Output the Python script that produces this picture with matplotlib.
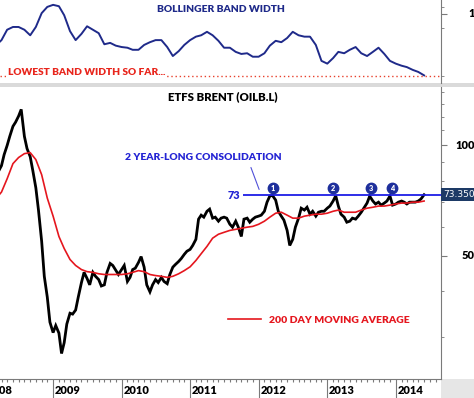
import matplotlib
matplotlib.use("Agg")
import matplotlib.pyplot as plt
import matplotlib.ticker as mticker
import matplotlib.dates as mdates
from matplotlib.patches import Rectangle
import pandas as pd

plt.rcParams['font.family'] = ['Lato', 'DejaVu Sans']

# ---------------- data ----------------
# ETFS Brent (OILB.L), semi-monthly closes from 2008-03-15
price = [84.8, 88.1, 94.4, 100.0, 105.9, 112.8, 115.8, 120.3, 125.5, 105.9,
         98.1, 93.2, 85.3, 76.6, 66.6, 54.7, 43.9, 38.5, 32.9, 30.8,
         32.2, 30.7, 27.0, 28.9, 32.5, 34.8, 34.6, 35.5, 38.5, 42.2,
         45.0, 43.3, 41.6, 45.0, 43.9, 43.0, 41.3, 41.6, 45.0, 47.6,
         47.0, 45.6, 44.4, 45.8, 47.0, 42.5, 43.6, 45.8, 46.2, 47.9,
         49.7, 46.5, 41.6, 39.8, 41.6, 43.0, 42.2, 43.6, 42.5, 41.9,
         44.4, 46.5, 47.3, 48.2, 49.1, 50.4, 51.4, 52.0, 53.3, 55.4,
         62.9, 64.5, 63.7, 66.1, 67.0, 63.3, 63.7, 62.1, 63.3, 63.7,
         63.3, 60.9, 59.8, 62.1, 59.8, 56.4, 62.9, 63.3, 61.7, 62.9,
         63.7, 64.1, 64.5, 66.1, 70.0, 72.8, 73.0, 70.9, 66.1, 64.1,
         62.5, 58.6, 53.3, 55.4, 59.8, 63.3, 67.4, 66.6, 67.8, 64.9,
         66.1, 64.1, 65.7, 66.1, 66.1, 67.4, 68.3, 70.5, 72.9, 68.3,
         64.9, 63.7, 61.7, 62.1, 63.3, 62.9, 64.1, 65.7, 67.4, 69.6,
         72.7, 70.5, 69.2, 70.0, 68.7, 69.6, 70.5, 72.8, 68.7, 69.2,
         70.0, 70.5, 70.0, 69.2, 70.0, 70.0, 70.0, 70.5, 71.4, 73.35]
price_dates = pd.date_range('2008-03-15', periods=len(price), freq='SMS')

# 200 day moving average, monthly from 2008-03-01
ma200 = [71.4, 74.6, 81.1, 89.2, 92.7, 95.0, 95.6, 91.5, 83.2, 71.8,
         64.1, 56.4, 52.3, 48.8, 47.0, 45.8, 45.2, 45.0, 44.6, 44.4,
         44.4, 44.4, 44.4, 44.6, 45.0, 45.5, 45.2, 44.4, 44.1, 43.9,
         43.6, 43.9, 44.6, 45.5, 46.6, 48.5, 50.6, 53.0, 55.8, 57.2,
         57.9, 58.6, 59.0, 59.4, 59.8, 60.1, 60.9, 62.1, 63.7, 65.3,
         65.7, 64.5, 63.3, 63.3, 64.1, 64.5, 64.9, 64.9, 65.3, 66.1,
         66.6, 65.7, 65.7, 65.7, 66.6, 67.4, 67.8, 68.3, 68.3, 68.7,
         69.2, 69.6, 69.6, 70.0, 70.0, 70.5]
# Bollinger band width, monthly from 2008-03-01
bbw = [0.54, 0.62, 0.77, 0.81, 0.81, 0.77, 0.69, 0.81, 1.01, 1.10,
       1.13, 1.11, 0.98, 0.75, 0.62, 0.71, 0.82, 0.77, 0.72, 0.56,
       0.58, 0.54, 0.52, 0.51, 0.48, 0.48, 0.55, 0.59, 0.62, 0.62,
       0.52, 0.39, 0.46, 0.55, 0.62, 0.67, 0.69, 0.74, 0.69, 0.61,
       0.51, 0.51, 0.45, 0.42, 0.43, 0.38, 0.38, 0.43, 0.54, 0.61,
       0.59, 0.65, 0.74, 0.69, 0.67, 0.67, 0.55, 0.32, 0.28, 0.36,
       0.45, 0.43, 0.48, 0.52, 0.43, 0.39, 0.45, 0.51, 0.42, 0.32,
       0.28, 0.25, 0.23, 0.19, 0.16, 0.11]
monthly_dates = pd.date_range('2008-03-01', periods=len(ma200), freq='MS')

lowest_bbw = 0.10
resistance = 73
last_price = 73.35
peak_dates = pd.to_datetime(['2012-03-17', '2013-02-01', '2013-08-23', '2013-12-13'])
peak_labels = ['1', '2', '3', '4']
years = [2008, 2009, 2010, 2011, 2012, 2013, 2014]

x_start = pd.Timestamp('2008-03-24')
x_end = pd.Timestamp('2014-08-30')

# ---------------- figure ----------------
W, H = 474, 398
fig = plt.figure(figsize=(W / 100, H / 100), dpi=100)
fig.patch.set_facecolor('white')

axr = 441 / W
ax1 = fig.add_axes([0, 1 - 83 / H, axr, 83 / H])
ax2 = fig.add_axes([0, 1 - 379 / H, axr, (379 - 87) / H])

navy = '#1f2a8a'
blue = '#2424d4'
red = '#e5161e'
axis_col = '#7a7a7a'

# separator band & bottom right grey block
fig.add_artist(Rectangle((0, 1 - 87 / H), 1, 4 / H, transform=fig.transFigure,
                         facecolor='#dadada', edgecolor='none', zorder=0))
fig.add_artist(Rectangle((axr, 0), 1 - axr, 19 / H, transform=fig.transFigure,
                         facecolor='#e6e6e6', edgecolor='none', zorder=0))

# ---- top panel: Bollinger band width ----
ax1.plot(monthly_dates, bbw, color=navy, lw=1.4)
ax1.axhline(lowest_bbw, color='#e8402c', lw=1.0, ls=(0, (1, 2)))
ax1.set_xlim(x_start, x_end)
ax1.set_ylim(0, 1.2)
for s in ['top', 'left', 'bottom']:
    ax1.spines[s].set_visible(False)
ax1.spines['right'].set_color(axis_col)
ax1.set_xticks([])
ax1.yaxis.tick_right()
ax1.set_yticks([1.0])
ax1.set_yticks([0.1, 0.8, 1.1], minor=True)
ax1.yaxis.set_major_formatter(mticker.NullFormatter())
ax1.tick_params(axis='y', which='major', length=4.5, color=axis_col)
ax1.tick_params(axis='y', which='minor', length=2.2, color=axis_col)
ax1.text(475 / 441, 1.0, '1', transform=ax1.get_yaxis_transform(), ha='right',
         va='center', fontsize=8, fontweight='heavy', clip_on=False)
ax1.text(0.5, 0.88, 'BOLLINGER BAND WIDTH', transform=ax1.transAxes, ha='center',
         va='center', color=navy, fontsize=7.4, fontweight='heavy')
ax1.text(8 / 441, 0.145, 'LOWEST BAND WIDTH SO FAR...', transform=ax1.get_yaxis_transform(),
         ha='left', va='center', color='#e8251c', fontsize=7.3, fontweight='heavy',
         bbox=dict(boxstyle='square,pad=0.15', fc='white', ec='none'))

# ---- bottom panel: price ----
ax2.plot(price_dates, price, color='black', lw=2.0, solid_joinstyle='miter')
ax2.plot(monthly_dates, ma200, color=red, lw=1.2, label='200 DAY MOVING AVERAGE')
ax2.set_yscale('log')
ax2.set_ylim(23.0, 144.5)
ax2.set_xlim(x_start, x_end)
for s in ['top', 'left']:
    ax2.spines[s].set_visible(False)
ax2.spines['right'].set_color(axis_col)
ax2.spines['bottom'].set_color(axis_col)

ax2.yaxis.tick_right()
ax2.yaxis.set_major_locator(mticker.FixedLocator([50, 100]))
ax2.yaxis.set_minor_locator(mticker.FixedLocator([30, 40, 60, 70, 80, 90, 110, 120, 130, 140]))
ax2.yaxis.set_major_formatter(mticker.NullFormatter())
ax2.yaxis.set_minor_formatter(mticker.NullFormatter())
ax2.tick_params(axis='y', which='major', length=4.5, color=axis_col)
ax2.tick_params(axis='y', which='minor', length=2.2, color=axis_col)
for v in [50, 100]:
    ax2.text(475 / 441, v, str(v), transform=ax2.get_yaxis_transform(), ha='right',
             va='center', fontsize=8, fontweight='heavy', clip_on=False)

ax2.xaxis.set_major_locator(mdates.YearLocator())
ax2.xaxis.set_minor_locator(mdates.MonthLocator())
ax2.xaxis.set_major_formatter(mticker.NullFormatter())
ax2.tick_params(axis='x', which='major', length=14, width=0.8, color=axis_col)
ax2.tick_params(axis='x', which='minor', length=2.5, width=0.8, color=axis_col)
for yr in years:
    ax2.text(pd.Timestamp(f'{yr}-01-01') + pd.Timedelta(days=10), -0.041, str(yr),
             transform=ax2.get_xaxis_transform(), ha='left', va='center',
             fontsize=8, fontweight='heavy', clip_on=False)

# resistance line & annotations
ax2.hlines(resistance, pd.Timestamp('2011-10-08'), x_end, color='#1e1ee6', lw=1.3)
ax2.text(pd.Timestamp('2011-09-25'), resistance, str(resistance), ha='right', va='center',
         color=blue, fontsize=7.8, fontweight='heavy')
ax2.annotate('', xy=(pd.Timestamp('2012-01-09'), 74.6), xytext=(pd.Timestamp('2011-11-16'), 88.5),
             arrowprops=dict(arrowstyle='-', color='#5050d8', lw=0.8))
fig.text(203.5 / W, 1 - 157 / H, '2 YEAR-LONG CONSOLIDATION', ha='center', va='center',
         color=blue, fontsize=7.4, fontweight='heavy')
fig.text(223 / W, 1 - 97 / H, 'ETFS BRENT (OILB.L)', ha='center', va='center',
         color='black', fontsize=8.2, fontweight='heavy')

ax2.plot(peak_dates, [76.5] * len(peak_dates), 'o', ms=7.5, color='#1e2f9c', mec='#1e2f9c')
for d, lab in zip(peak_dates, peak_labels):
    ax2.text(d, 76.5, lab, ha='center', va='center', color='white', fontsize=5.2,
             fontweight='heavy')

ax2.text(443 / 441, last_price, f'{last_price:.3f}', transform=ax2.get_yaxis_transform(),
         ha='left', va='center', color='white', fontsize=6.5, family='DejaVu Sans',
         clip_on=False, bbox=dict(boxstyle='square,pad=0.25', fc='#1d3a66', ec='none'))

leg = ax2.legend(loc='center left', bbox_to_anchor=(228 / W, 1 - 320 / H),
                 bbox_transform=fig.transFigure, frameon=False, borderpad=0,
                 borderaxespad=0, handlelength=3.2, handletextpad=0.7,
                 prop={'size': 7.5, 'weight': 'heavy'})
for t in leg.get_texts():
    t.set_color(red)

fig.savefig('out.png', dpi=100)
